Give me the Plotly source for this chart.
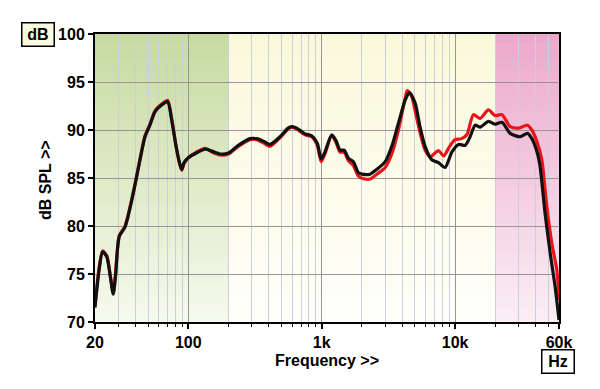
import plotly.graph_objects as go

# ---- data ----
freq_black = [20, 21.5, 22.8, 24.5, 26, 27.4, 28.5, 30.4, 33.6, 38.7, 43.5, 47.4, 51.6, 56.3, 63.2, 70,
              75.2, 81, 86, 89.3, 93, 100, 115, 134, 150, 173, 200, 237, 290, 326, 370, 410, 487, 560,
              597, 650, 750, 841, 927, 990, 1050, 1189, 1280, 1373, 1472, 1585, 1727, 1884, 2000, 2300,
              2590, 2990, 3350, 3757, 4218, 4542, 5012, 5460, 5950, 6680, 7490, 8400, 9440, 10600,
              11880, 12940, 14120, 15390, 17750, 19950, 22400, 25840, 30700, 34800, 37560, 40500,
              43000, 47200, 51500, 56100, 60000]
db_black = [71.5, 75.5, 77.3, 76.8, 74.8, 72.9, 74.8, 78.9, 79.9, 83.4, 86.9, 89.3, 90.5, 91.9, 92.6, 92.95,
            91.0, 88.3, 86.6, 85.9, 86.6, 87.1, 87.6, 88.0, 87.8, 87.5, 87.6, 88.4, 89.1, 89.1, 88.8, 88.5, 89.3, 90.2,
            90.35, 90.2, 89.6, 89.4, 88.6, 87.0, 87.6, 89.5, 88.9, 87.9, 87.9, 87.05, 86.7, 85.55, 85.4, 85.4,
            85.9, 86.7, 88.3, 90.7, 93.1, 93.9, 92.8, 90.3, 88.3, 86.9, 86.6, 86.1, 87.7, 88.5,
            88.4, 89.3, 90.5, 90.3, 90.9, 90.6, 90.8, 89.65, 89.3, 89.65, 89.1, 88.0,
            86.5, 81.3, 77.2, 73.7, 70.2]

freq_red = [20, 21.5, 22.8, 24.5, 26, 27.4, 28.5, 30.4, 33.6, 38.7, 43.5, 47.4, 51.6, 56.3, 63.2, 70,
            75.2, 81, 86, 89.3, 93, 100, 115, 134, 150, 173, 200, 237, 290, 326, 370, 410, 487, 560,
            597, 650, 750, 841, 927, 990, 1050, 1189, 1280, 1373, 1472, 1585, 1727, 1884, 2100, 2300,
            2590, 2990, 3350, 3757, 4218, 4380, 4700, 5012, 5460, 5950, 6490, 7490, 8200, 9100, 9980,
            11200, 12230, 13710, 15390, 17750, 19950, 22400, 25840, 29800, 34800, 37560, 41000,
            44600, 48650, 53000, 57800, 60000]
db_red = [71.8, 75.7, 77.4, 76.9, 74.9, 73.1, 75.0, 79.0, 80.0, 83.5, 87.0, 89.4, 90.6, 92.0, 92.7, 93.1,
          91.1, 88.3, 86.5, 85.8, 86.5, 87.1, 87.7, 88.1, 87.7, 87.4, 87.5, 88.3, 89.0, 89.0, 88.6, 88.3, 89.2, 90.1,
          90.3, 90.1, 89.5, 89.3, 88.4, 86.7, 87.4, 89.4, 88.7, 87.7, 87.7, 86.8, 86.3, 85.2, 84.9, 84.9,
          85.4, 86.1, 87.5, 90.0, 93.3, 94.1, 93.6, 92.0, 89.7, 87.9, 87.2, 87.85, 87.3, 88.3, 89.0,
          89.1, 89.5, 91.6, 91.2, 92.1, 91.5, 91.6, 90.35, 90.2, 90.5, 90.0, 88.8,
          86.9, 82.0, 78.2, 75.4, 72.3]

# background bands (Hz) and gradient colours (top, bottom)
band_edges = [(20, 200), (200, 20000), (20000, 60000)]
band_top = [(198, 219, 160), (250, 248, 218), (236, 168, 203)]
band_bottom = [(246, 249, 238), (255, 255, 250), (250, 238, 244)]

x_tickvals = [20, 100, 1000, 10000, 60000]
x_ticktext = ["20", "100", "1k", "10k", "60k"]
x_minor = [30, 40, 50, 60, 70, 80, 90, 200, 300, 400, 500, 600, 700, 800, 900,
           2000, 3000, 4000, 5000, 6000, 7000, 8000, 9000, 20000, 30000, 40000, 50000]
y_ticks = [70, 75, 80, 85, 90, 95, 100]
y_min, y_max = 70, 100

FONT = "Liberation Sans"

fig = go.Figure()

fig.add_trace(go.Scatter(x=freq_red, y=db_red, mode="lines",
                         line=dict(color="#e8141a", width=3.2, shape="spline", smoothing=0.7),
                         hoverinfo="skip", showlegend=False))
fig.add_trace(go.Scatter(x=freq_black, y=db_black, mode="lines",
                         line=dict(color="#111111", width=3.2, shape="spline", smoothing=0.7),
                         hoverinfo="skip", showlegend=False))

# gradient strips
n_strips = 80
shapes = []
for (x0, x1), top, bot in zip(band_edges, band_top, band_bottom):
    for i in range(n_strips):
        t = i / (n_strips - 1)
        c = tuple(round(bot[k] + (top[k] - bot[k]) * t) for k in range(3))
        y0 = y_min + (y_max - y_min) * i / n_strips
        y1 = y_min + (y_max - y_min) * (i + 1) / n_strips + 0.05
        shapes.append(dict(type="rect", xref="x", yref="y", x0=x0, x1=x1, y0=y0, y1=min(y1, y_max),
                           fillcolor="rgb(%d,%d,%d)" % c, line=dict(width=0), layer="below"))

fig.update_layout(
    width=592, height=381,
    margin=dict(l=87, r=41, t=26, b=67),
    paper_bgcolor="white", plot_bgcolor="white",
    shapes=shapes,
    font=dict(family=FONT, color="black"),
    xaxis=dict(type="log", range=[1.30103, 4.778151],
               tickvals=x_tickvals, ticktext=x_ticktext,
               ticks="outside", ticklen=5, tickwidth=1.5, tickcolor="black",
               tickfont=dict(family=FONT, size=16, weight="bold"),
               showgrid=True, gridcolor="rgb(150,150,150)", gridwidth=1,
               minor=dict(tickvals=x_minor, ticks="outside", ticklen=3, tickwidth=1, tickcolor="black",
                          showgrid=True, gridcolor="rgb(205,205,220)", gridwidth=1),
               showline=True, linecolor="black", linewidth=2, mirror=True, zeroline=False),
    yaxis=dict(range=[y_min, y_max], tickvals=y_ticks,
               ticks="outside", ticklen=5, tickwidth=2, tickcolor="black",
               tickfont=dict(family=FONT, size=16, weight="bold"),
               showgrid=True, gridcolor="rgb(150,150,150)", gridwidth=1,
               showline=True, linecolor="black", linewidth=2, mirror=True, zeroline=False),
    annotations=[
        dict(text="dB", xref="paper", yref="paper", x=(37.5 - 95) / 464, y=(322 - 34.5) / 288,
             showarrow=False, font=dict(family=FONT, size=16, weight="bold"),
             bgcolor="rgb(250,250,225)", bordercolor="black", borderwidth=1.5, borderpad=2,
             width=27, height=18, xanchor="center", yanchor="middle"),
        dict(text="Hz", xref="paper", yref="paper", x=(558.3 - 95) / 464, y=(322 - 361) / 288,
             showarrow=False, font=dict(family=FONT, size=16, weight="bold"),
             bgcolor="white", bordercolor="black", borderwidth=1.5, borderpad=2,
             width=27, height=18, xanchor="center", yanchor="middle"),
        dict(text="dB SPL >>", xref="paper", yref="paper", x=(45 - 95) / 464, y=0.493,
             textangle=-90, showarrow=False, font=dict(family=FONT, size=16, weight="bold"),
             xanchor="center", yanchor="middle"),
        dict(text="Frequency >>", xref="paper", yref="paper", x=0.5, y=(322 - 360) / 288,
             showarrow=False, font=dict(family=FONT, size=16, weight="bold"),
             xanchor="center", yanchor="middle"),
    ],
)

fig.write_html("out.html")
